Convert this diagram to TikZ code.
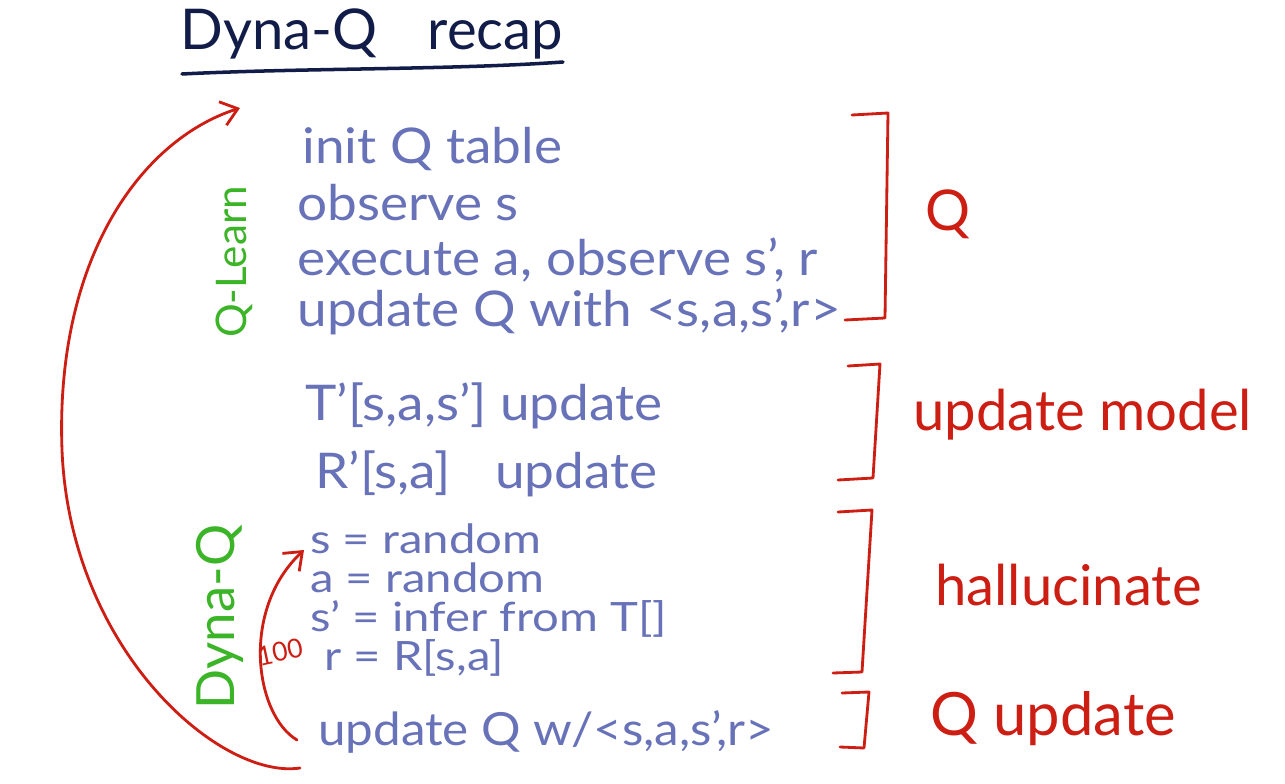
\documentclass[tikz,border=0pt]{standalone}
\usepackage{fontspec}
\setmainfont{Lato}
\newfontfamily\wideface[Ligatures=TeX,FakeStretch=1.08]{Lato}
\newfontfamily\widerface[Ligatures=TeX,FakeStretch=1.17]{Lato}
\usetikzlibrary{arrows.meta}
\definecolor{ink}{RGB}{18,28,72}
\definecolor{penblue}{RGB}{104,114,184}
\definecolor{penred}{RGB}{205,30,20}
\definecolor{pengreen}{RGB}{60,180,40}
\begin{document}
\begin{tikzpicture}[x=0.02cm,y=-0.02cm,
  step line/.style={anchor=base west,inner sep=0pt,text=penblue,font=\wideface\fontsize{28}{30}\selectfont},
  small step/.style={anchor=base west,inner sep=0pt,text=penblue,font=\widerface\fontsize{23}{25}\selectfont},
  red label/.style={anchor=base west,inner sep=0pt,text=penred,font=\fontsize{32}{36}\selectfont},
  side label/.style={inner sep=0pt,text=pengreen,rotate=90},
  bracket/.style={draw=penred,line width=1.6pt,line join=round,line cap=round},
  loop arrow/.style={draw=penred,line width=1.6pt,line cap=round,-{Straight Barb[length=9pt,width=14pt,line width=1.6pt]}}]
\useasboundingbox (0,0) rectangle (1285,784);
\fill[white] (0,0) rectangle (1285,784);

% title
\node[anchor=base west,inner sep=0pt,text=ink,font=\fontsize{32}{36}\selectfont] (title) at (180,50) {Dyna-Q\hspace{0.9em}recap};
\draw[ink,line width=2pt,line cap=round] (182,74) .. controls (300,68) and (450,70) .. (563,62);

% Q-learning steps
\node[step line] (l1) at (302,163) {init Q table};
\node[step line] (l2) at (297,220) {observe s};
\node[step line] (l3) at (297,275) {execute a, observe s', r};
\node[step line] (l4) at (297,326) {update Q with <s,a,s',r>};

% model update
\node[step line] (m1) at (305,420) {T'[s,a,s'] update};
\node[step line] (m2) at (315,488) {R'[s,a]\hspace{0.9em}update};

% hallucination
\node[small step] (h1) at (310,553) {s = random};
\node[small step] (h2) at (310,592) {a = random};
\node[small step] (h3) at (310,631) {s' = infer from T[]};
\node[small step] (h4) at (324,670) {r = R[s,a]};
\node[step line,font=\wideface\fontsize{26}{28}\selectfont] (h5) at (318,745) {update Q w/<s,a,s',r>};

% side labels
\node[side label,font=\fontsize{24}{28}\selectfont] (qlearn) at (234,262) {Q-Learn};
\node[side label,font=\fontsize{30}{34}\selectfont] (dynaq) at (220,617) {Dyna-Q};

% brackets and their labels
\draw[bracket] (852,115) -- (888,113) -- (885,318) -- (845,320);
\node[red label] (rq) at (925,230) {Q};
\draw[bracket] (848,366) -- (880,364) -- (873,478) -- (838,480);
\node[red label] (rmodel) at (913,430) {update model};
\draw[bracket] (838,512) -- (872,510) -- (862,672) -- (833,673);
\node[red label] (rhall) at (935,605) {hallucinate};
\draw[bracket] (842,693) -- (869,692) -- (864,748) -- (840,747);
\node[red label,font=\fontsize{34}{38}\selectfont] (rqup) at (930,735) {Q update};

% loops
\coordinate (outer start) at (300,768);
\coordinate (outer end) at (240,108);
\draw[loop arrow] (outer start) .. controls (220,780) and (70,650) .. (62,450)
  .. controls (55,260) and (140,140) .. (outer end);
\coordinate (inner start) at (297,740);
\coordinate (inner end) at (304,550);
\draw[loop arrow] (inner start) .. controls (255,715) and (240,610) .. (inner end);
\node[inner sep=0pt,text=penred,rotate=12,font=\fontsize{15}{17}\selectfont] (count) at (280,652) {100};
\end{tikzpicture}
\end{document}
